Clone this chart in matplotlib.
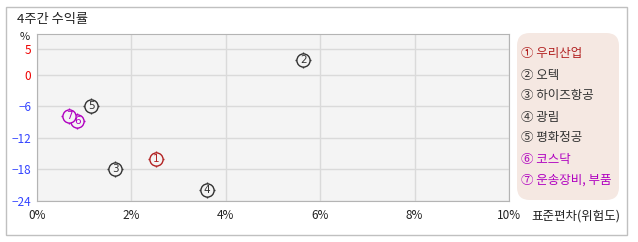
import matplotlib.pyplot as plt
from matplotlib.patches import Rectangle, FancyBboxPatch

plt.rcParams['font.family'] = ['Noto Sans CJK KR', 'DejaVu Sans']

# data: x = std dev (%), y = 4-week return (%)
names = ['우리산업', '오텍', '하이즈항공', '광림', '평화정공', '코스닥', '운송장비, 부품']
risk = [2.53, 5.64, 1.66, 3.6, 1.15, 0.85, 0.68]
returns = [-16.0, 2.9, -17.9, -21.9, -6.0, -8.8, -7.9]
colors = ['#b22222', '#333333', '#333333', '#333333', '#333333', '#b000c0', '#b000c0']
circled = ['①', '②', '③', '④', '⑤', '⑥', '⑦']

x_ticks = [0, 2, 4, 6, 8, 10]
y_ticks = [5, 0, -6, -12, -18, -24]

W, H = 638, 242
fig = plt.figure(figsize=(W / 100, H / 100), dpi=100)

# outer frame
fig.patches.append(Rectangle((6 / W, 1 - 235 / H), 621 / W, 228 / H,
                             transform=fig.transFigure, fill=False,
                             edgecolor='#c0c0c0', lw=1))

ax = fig.add_axes([37 / W, 1 - 201 / H, (509 - 37) / W, (201 - 34) / H])
ax.set_facecolor('#f4f4f4')
ax.set_xlim(0, 10)
ax.set_ylim(-24, 7.8)
for s in ax.spines.values():
    s.set_color('#b4b4b4')
ax.set_xticks(x_ticks)
ax.set_yticks(y_ticks)
ax.grid(True, color='#dadada', lw=1)
ax.set_axisbelow(True)
ax.tick_params(length=0, labelsize=8.5)
ax.set_xticklabels([f'{t}%' for t in x_ticks], color='#222222')
ax.tick_params(axis='x', pad=6)
ax.tick_params(axis='y', pad=4)
ax.set_yticklabels([str(t).replace('-', '−') for t in y_ticks])
for lab, t in zip(ax.get_yticklabels(), y_ticks):
    lab.set_color('#ee0000' if t >= 0 else '#3344ff')

# markers: small crosshair ticks + circle + number
for i in range(len(names)):
    ax.plot(risk[i], returns[i], marker='+', ms=11, mew=1, color=colors[i], zorder=3)
    ax.plot(risk[i], returns[i], marker='o', ms=9.5, mew=1, mfc='#f4f4f4',
            mec=colors[i], zorder=4)
    ax.text(risk[i], returns[i], str(i + 1), ha='center', va='center',
            fontsize=7.5, color=colors[i], zorder=5, family='DejaVu Sans')

fig.text(17 / W, 1 - 20 / H, '4주간 수익률', fontsize=9.5, va='center', ha='left', color='#222222')
fig.text(25 / W, 1 - 37 / H, '%', fontsize=8, va='center', ha='center', color='#222222')
fig.text(531 / W, 1 - 216 / H, '표준편차(위험도)', fontsize=9, va='center', ha='left', color='#222222')

# legend box
fig.patches.append(FancyBboxPatch((517 / W, 1 - 200 / H), 102 / W, 167 / H,
                                  boxstyle='round,pad=0,rounding_size=0.02',
                                  transform=fig.transFigure, facecolor='#f5e8e2',
                                  edgecolor='none', mutation_aspect=W / H))
for i in range(len(names)):
    fig.text(521 / W, 1 - (54 + 21 * i) / H, f'{circled[i]} {names[i]}', fontsize=9,
             va='center', ha='left', color=colors[i])

fig.savefig('out.png', dpi=100)
